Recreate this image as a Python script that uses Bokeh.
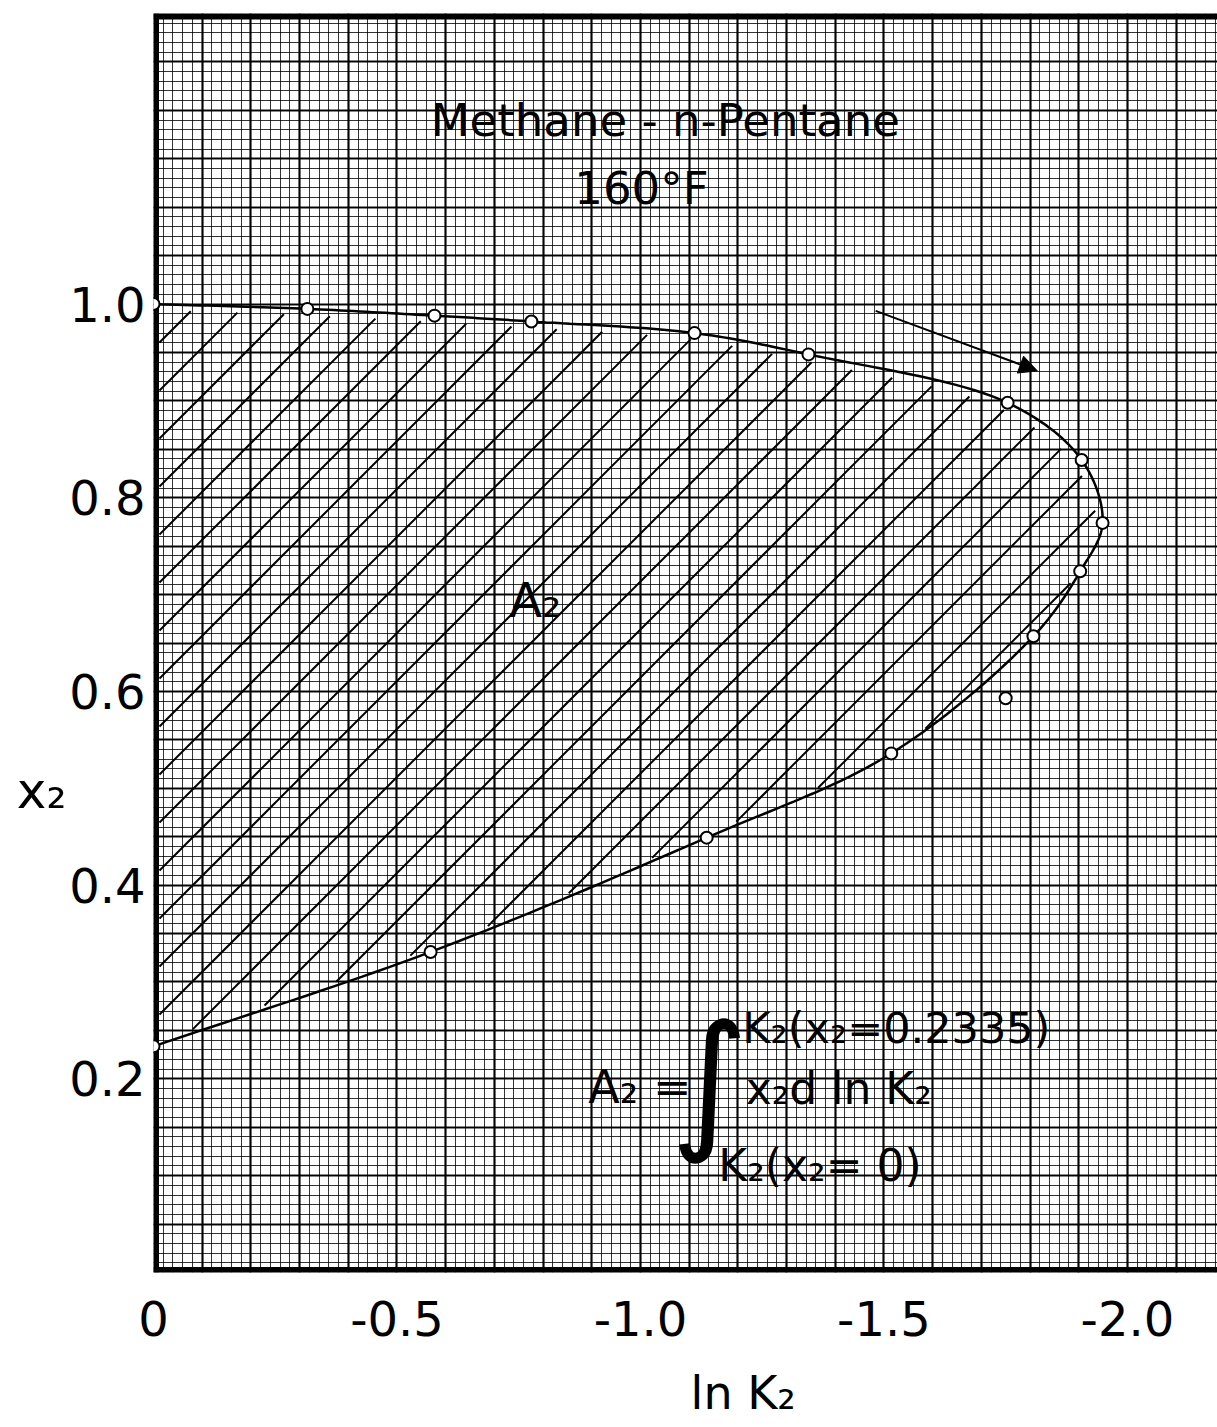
import numpy as np
from bokeh.plotting import figure
from bokeh.models import (Range1d, FixedTicker, SingleIntervalTicker, CustomJSTickFormatter,
                          Span, Arrow, NormalHead, ColumnDataSource, LinearAxis)
from bokeh.core.properties import value
from bokeh.embed import file_html
from bokeh.resources import INLINE

# ---- data ----
# measured points along the curve (ln K2, x2), in drawing order (upper branch -> nose -> lower branch)
curve_lnK2 = [0.0, -0.316, -0.577, -0.776, -1.111, -1.345, -1.754, -1.906, -1.949,
              -1.903, -1.807, -1.515, -1.136, -0.569, 0.0]
curve_x2 = [1.0, 0.995, 0.988, 0.982, 0.970, 0.948, 0.898, 0.839, 0.774,
            0.724, 0.657, 0.536, 0.449, 0.331, 0.2335]
# measured point lying off the drawn curve
extra_lnK2 = [-1.750]
extra_x2 = [0.593]

x_ticks = [0, -0.5, -1.0, -1.5, -2.0]
y_ticks = [0.2, 0.4, 0.6, 0.8, 1.0]

x_min, x_max = 0.0, -2.185
y_min, y_max = 0.0, 1.3

# axis titles and where they sit along their axes
x_title, x_title_pos = "ln K₂", -1.211
y_title, y_title_pos = "x₂", 0.497

# annotations (visual centres)
note_text = ["Methane - n-Pentane", "160°F", "A₂", "A₂ =", "K₂(x₂=0.2335)", "x₂d ln K₂", "K₂(x₂= 0)"]
note_x = [-1.051, -1.002, -0.784, -0.893, -1.209, -1.216, -1.160]
note_y = [1.189, 1.119, 0.694, 0.192, 0.252, 0.190, 0.110]
note_size = ["45px", "45px", "48px", "46px", "43px", "44px", "44px"]
note_align = ["center", "center", "center", "left", "left", "left", "left"]

integral_x = [-1.142]
integral_y = [0.199]

arrow_start = (-1.483, 0.993)
arrow_end = (-1.815, 0.931)

FONT = "DejaVu Sans"
SX, SY = 487.0, 968.5   # approx. screen pixels per data unit (used for smoothing / 45-degree hatching)


def smooth_curve(xs, ys, n=20, alpha=0.5, sx=SX, sy=SY):
    """Centripetal Catmull-Rom curve through the measured points."""
    P = np.column_stack([np.asarray(xs) * sx, np.asarray(ys) * sy]).astype(float)
    P = np.vstack([2 * P[0] - P[1], P, 2 * P[-1] - P[-2]])
    out = []
    for i in range(1, len(P) - 2):
        p0, p1, p2, p3 = P[i - 1], P[i], P[i + 1], P[i + 2]
        t0 = 0.0
        t1 = t0 + np.linalg.norm(p1 - p0) ** alpha
        t2 = t1 + np.linalg.norm(p2 - p1) ** alpha
        t3 = t2 + np.linalg.norm(p3 - p2) ** alpha
        t = np.linspace(t1, t2, n, endpoint=False)[:, None]
        A1 = (t1 - t) / (t1 - t0) * p0 + (t - t0) / (t1 - t0) * p1
        A2 = (t2 - t) / (t2 - t1) * p1 + (t - t1) / (t2 - t1) * p2
        A3 = (t3 - t) / (t3 - t2) * p2 + (t - t2) / (t3 - t2) * p3
        B1 = (t2 - t) / (t2 - t0) * A1 + (t - t0) / (t2 - t0) * A2
        B2 = (t3 - t) / (t3 - t1) * A2 + (t - t1) / (t3 - t1) * A3
        C = (t2 - t) / (t2 - t1) * B1 + (t - t1) / (t2 - t1) * B2
        out.append(C)
    out.append(P[-2][None, :])
    C = np.vstack(out)
    return C[:, 0] / sx, C[:, 1] / sy


def hatch_segments(px, py, spacing=48.0, offset=924.0, gap=6.0, sx=SX, sy=SY):
    """45-degree hatch lines clipped to the closed polygon (px, py)."""
    X = -np.asarray(px) * sx
    Y = np.asarray(py) * sy
    X = np.append(X, X[0])
    Y = np.append(Y, Y[0])
    d = Y - X
    k0 = int(np.ceil((d.min() - offset) / spacing))
    k1 = int(np.floor((d.max() - offset) / spacing))
    xs_list, ys_list = [], []
    for k in range(k0, k1 + 1):
        c = offset + k * spacing
        pts = []
        for i in range(len(X) - 1):
            d0, d1 = d[i] - c, d[i + 1] - c
            if (d0 < 0) != (d1 < 0):
                t = d0 / (d0 - d1)
                pts.append(X[i] + t * (X[i + 1] - X[i]))
        pts.sort()
        for j in range(0, len(pts) - 1, 2):
            xa, xb = pts[j] + gap, pts[j + 1] - gap
            if xb - xa < 4:
                continue
            xs_list.append([-xa / sx, -xb / sx])
            ys_list.append([(xa + c) / sy, (xb + c) / sy])
    return xs_list, ys_list


cx, cy = smooth_curve(curve_lnK2, curve_x2)
hx, hy = hatch_segments(cx, cy)

p = figure(width=1217, height=1427, output_backend="svg", toolbar_location=None,
           x_range=Range1d(x_min, x_max), y_range=Range1d(y_min, y_max),
           min_border_left=153, min_border_right=0, min_border_top=13, min_border_bottom=155)
p.background_fill_color = "white"
p.border_fill_color = "white"
p.outline_line_color = None

# graph-paper grid
p.xgrid.ticker = SingleIntervalTicker(interval=0.1, num_minor_ticks=5)
p.ygrid.ticker = SingleIntervalTicker(interval=0.05, num_minor_ticks=5)
for g in (p.xgrid, p.ygrid):
    g.grid_line_color = "black"
    g.grid_line_width = 2.2
    g.grid_line_alpha = 0.95
    g.minor_grid_line_color = "black"
    g.minor_grid_line_width = 1
    g.minor_grid_line_alpha = 0.8

# axes
p.xaxis.ticker = FixedTicker(ticks=x_ticks)
p.yaxis.ticker = FixedTicker(ticks=y_ticks)
p.xaxis.formatter = CustomJSTickFormatter(code="return tick == 0 ? '0' : tick.toFixed(1);")
p.yaxis.formatter = CustomJSTickFormatter(code="return tick.toFixed(1);")
p.xaxis.major_label_standoff = 28
p.yaxis.major_label_standoff = 8

# axis titles as extra axes carrying a single tick label
xt = LinearAxis(ticker=FixedTicker(ticks=[x_title_pos]),
                formatter=CustomJSTickFormatter(code="return '%s';" % x_title),
                major_label_standoff=27)
yt = LinearAxis(ticker=FixedTicker(ticks=[y_title_pos]),
                formatter=CustomJSTickFormatter(code="return '%s';" % y_title),
                major_label_standoff=0)
p.add_layout(xt, "below")
p.add_layout(yt, "left")

for ax in (p.xaxis[0], p.yaxis[0], xt, yt):
    ax.axis_line_color = None
    ax.major_tick_line_color = None
    ax.minor_tick_line_color = None
    ax.major_tick_out = 0
    ax.major_label_text_font = FONT
    ax.major_label_text_font_size = "48px"
    ax.major_label_text_color = "black"
xt.major_label_text_font_size = "46px"
yt.major_label_text_font_size = "50px"

# frame borders (left, bottom, top), beneath the marks
p.add_layout(Span(location=0, dimension="height", line_color="black", line_width=11, level="underlay"))
p.add_layout(Span(location=y_min, dimension="width", line_color="black", line_width=11, level="underlay"))
p.add_layout(Span(location=y_max, dimension="width", line_color="black", line_width=12, level="underlay"))

# hatching of the area A2
p.multi_line(hx, hy, line_color="black", line_width=2.0)

# curve and points
p.line(cx, cy, line_color="black", line_width=2.5)
p.scatter(curve_lnK2, curve_x2, marker="circle", size=12, fill_color="white",
          line_color="black", line_width=2)
p.scatter(extra_lnK2, extra_x2, marker="circle", size=12, fill_color="white",
          line_color="black", line_width=2)

# arrow
p.add_layout(Arrow(end=NormalHead(size=18, fill_color="black", line_color="black"),
                   x_start=arrow_start[0], y_start=arrow_start[1],
                   x_end=arrow_end[0], y_end=arrow_end[1],
                   line_color="black", line_width=2))

# notes
src = ColumnDataSource(dict(x=note_x, y=note_y, text=note_text, size=note_size, align=note_align))
p.text(x="x", y="y", text="text", source=src, text_font=value(FONT), text_font_size="size",
       text_align="align", text_baseline="middle", text_color="black")
p.text(x=integral_x, y=integral_y, text=["∫"], text_font=value(FONT), text_font_size="150px",
       text_align="center", text_baseline="middle", text_color="black")

open("out.html", "w").write(file_html(p, INLINE))
